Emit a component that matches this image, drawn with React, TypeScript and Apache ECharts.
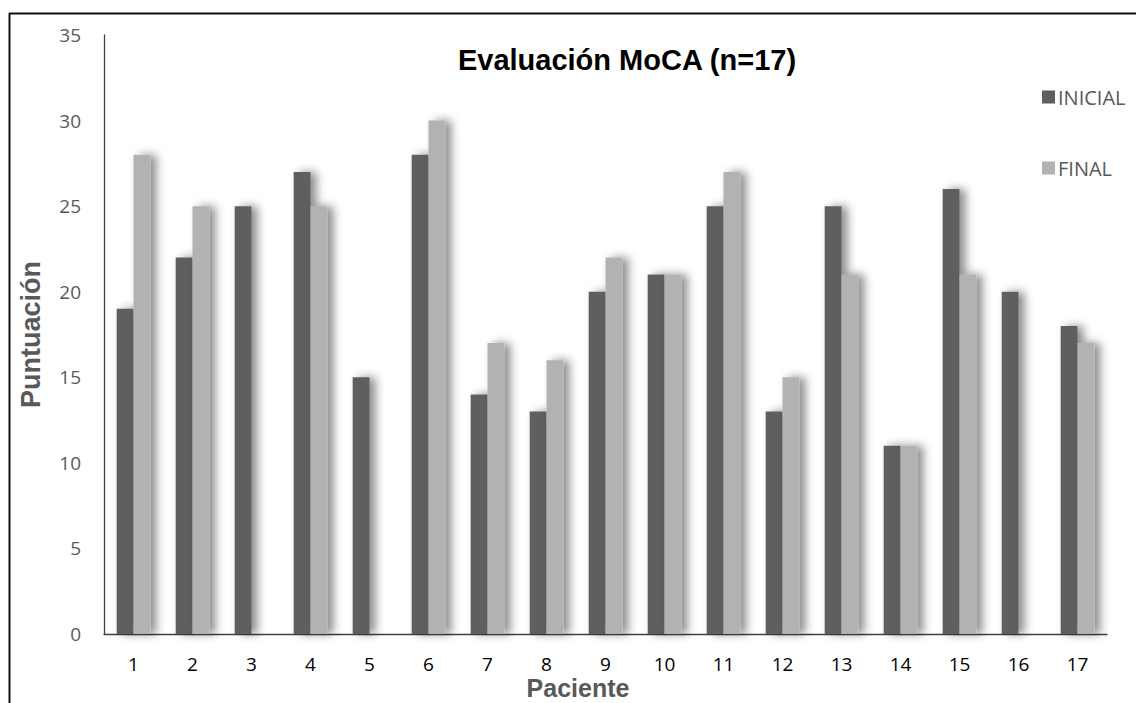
import React, { useEffect, useRef } from "react";
import * as echarts from "echarts";

const categories = ["1", "2", "3", "4", "5", "6", "7", "8", "9", "10", "11", "12", "13", "14", "15", "16", "17"];
const inicial = [19, 22, 25, 27, 15, 28, 14, 13, 20, 21, 25, 13, 25, 11, 26, 20, 18];
const final = [28, 25, null, 25, null, 30, 17, 16, 22, 21, 27, 15, 21, 11, 21, null, 17];
const seriesNames = ["INICIAL", "FINAL"];
const yTicks = { min: 0, max: 35, interval: 5 };

const FONT = "'Open Sans', 'DejaVu Sans', sans-serif";
const BOLD = "'Liberation Sans', Arial, sans-serif";

export default function App() {
  const ref = useRef<HTMLDivElement>(null);
  useEffect(() => {
    if (!ref.current) return;
    const chart = echarts.init(ref.current, null, { renderer: "svg" });
    const shadow = {
      shadowColor: "rgba(0,0,0,0.45)",
      shadowBlur: 10,
      shadowOffsetX: 6,
      shadowOffsetY: 0,
    };
    chart.setOption({
      animation: false,
      backgroundColor: "#ffffff",
      title: {
        text: "Evaluación MoCA (n=17)",
        left: 622,
        top: 40,
        textAlign: "center",
        textStyle: { fontFamily: BOLD, fontSize: 29, fontWeight: "bold", color: "#000000" },
      },
      legend: {
        orient: "vertical",
        left: 1037,
        top: 82,
        itemWidth: 13,
        itemHeight: 13,
        itemGap: 51,
        icon: "rect",
        data: seriesNames,
        itemStyle: { shadowBlur: 0, shadowOffsetX: 0 },
        textStyle: { fontFamily: FONT, fontSize: 20, color: "#595959", padding: [0, 0, 0, -2] },
      },
      grid: { left: 104, right: 29, top: 35, bottom: 69, containLabel: false },
      xAxis: {
        type: "category",
        data: categories,
        axisLine: { show: true, lineStyle: { color: "#404040", width: 1.3 } },
        axisTick: { show: false },
        axisLabel: { color: "#000000", fontFamily: FONT, fontSize: 19, margin: 20 },
        splitLine: { show: false },
      },
      yAxis: {
        type: "value",
        min: yTicks.min,
        max: yTicks.max,
        interval: yTicks.interval,
        name: "Puntuación",
        nameLocation: "middle",
        nameGap: 60,
        nameRotate: 90,
        nameTextStyle: { fontFamily: BOLD, fontSize: 27, fontWeight: "bold", color: "#595959" },
        axisLine: { show: true, lineStyle: { color: "#404040", width: 1.3 } },
        axisTick: { show: false },
        axisLabel: { color: "#595959", fontFamily: FONT, fontSize: 19, margin: 23 },
        splitLine: { show: false },
      },
      series: [
        {
          name: seriesNames[0],
          type: "bar",
          data: inicial,
          barGap: "0%",
          barCategoryGap: "43%",
          itemStyle: { color: "#5f5f5f", ...shadow },
        },
        {
          name: seriesNames[1],
          type: "bar",
          data: final,
          barGap: "0%",
          barCategoryGap: "43%",
          itemStyle: { color: "#b2b2b2", ...shadow },
        },
      ],
      graphic: [
        {
          type: "line",
          shape: { x1: 9, y1: 13.5, x2: 1136, y2: 13.5 },
          style: { stroke: "#111111", lineWidth: 2 },
        },
        {
          type: "line",
          shape: { x1: 9.5, y1: 13, x2: 9.5, y2: 703 },
          style: { stroke: "#111111", lineWidth: 2 },
        },
        {
          type: "text",
          x: 578,
          y: 688,
          style: {
            text: "Paciente",
            fontFamily: BOLD,
            fontSize: 25,
            fontWeight: "bold",
            fill: "#595959",
            align: "center",
            verticalAlign: "middle",
          },
        },
      ],
    });
    return () => chart.dispose();
  }, []);
  return (
    <div
      ref={ref}
      style={{ position: "fixed", left: 0, top: 0, width: 1136, height: 703, background: "#fff" }}
    />
  );
}
